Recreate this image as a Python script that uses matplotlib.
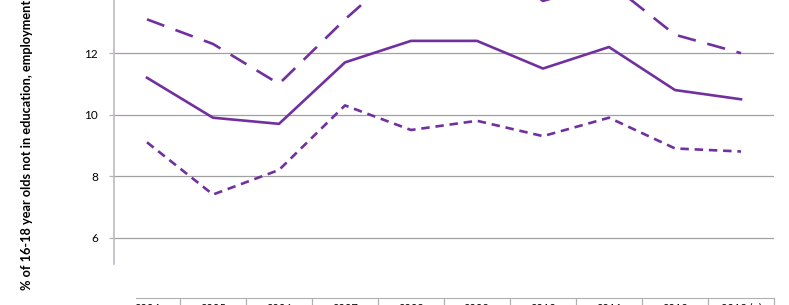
import matplotlib
matplotlib.use('Agg')
import matplotlib.pyplot as plt
import numpy as np

# data (upper series runs off the top of the crop)
years = ['2004', '2005', '2006', '2007', '2008', '2009', '2010', '2011', '2012', '2013 (p)']
upper = [13.1, 12.3, 11.0, 13.1, 15.0, 15.2, 13.7, 14.3, 12.6, 12.0]
central = [11.2, 9.9, 9.7, 11.7, 12.4, 12.4, 11.5, 12.2, 10.8, 10.5]
lower = [9.1, 7.4, 8.2, 10.3, 9.5, 9.8, 9.3, 9.9, 8.9, 8.8]
yticks = [6, 8, 10, 12]

purple = '#7030a0'
W, H = 789, 305

plt.rcParams['font.family'] = ['Lato', 'DejaVu Sans']

fig = plt.figure(figsize=(W / 100, H / 100), dpi=100)
ax = fig.add_axes([114 / W, 1 - 264 / H, (774 - 114) / W, 264 / H])

x = np.arange(len(years))
ax.plot(x, upper, color=purple, lw=1.9, dashes=(7, 4.5), solid_capstyle='butt')
ax.plot(x, central, color=purple, lw=1.9)
ax.plot(x, lower, color=purple, lw=1.9, dashes=(3.2, 2.2))

ax.set_xlim(-0.5, len(years) - 0.5)
ax.set_ylim(5.14, 13.73)
ax.set_yticks(yticks)
ax.set_yticklabels([str(v) for v in yticks], fontsize=8.5)
ax.yaxis.grid(True, color='#a0a0a0', lw=0.9)
ax.set_axisbelow(True)
ax.tick_params(axis='y', length=3.5, width=0.9, color='#b8b0bc', pad=8)

for s in ['top', 'right']:
    ax.spines[s].set_visible(False)
ax.spines['left'].set_color('#c0b8c4')
ax.spines['left'].set_linewidth(1.2)

# category axis sits below the plot, like a table row (labels cropped as in the source)
ax.spines['bottom'].set_position(('outward', 24.5))
ax.spines['bottom'].set_bounds(-0.17, len(years) - 0.5)
ax.spines['bottom'].set_color('#b0b0b0')
ax.set_xticks(x)
ax.set_xticklabels(years, fontsize=8)
ax.set_xticks(list(x[:-1] + 0.5) + [len(years) - 0.5], minor=True)
ax.tick_params(axis='x', which='major', length=0, pad=3.5)
ax.tick_params(axis='x', which='minor', length=8, color='#b0b0b0', width=0.9)

fig.text(27 / W, 1 - 290 / H, '% of 16-18 year olds not in education, employment or training',
         rotation=90, ha='center', va='bottom', fontsize=9.2, fontweight='bold')

fig.savefig('out.png', dpi=100)
